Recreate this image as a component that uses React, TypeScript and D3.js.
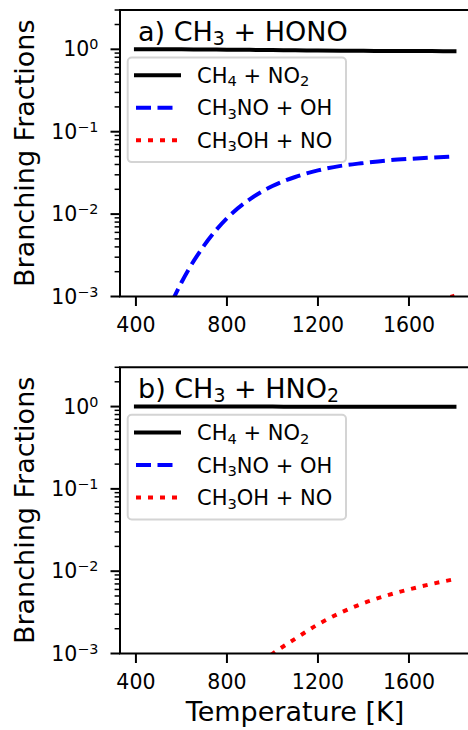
import React from "react";
import * as d3 from "d3";

// ---- data ----
const temperatures = [400, 500, 600, 700, 800, 900, 1000, 1100, 1200, 1300, 1400, 1500, 1600, 1700, 1800];

// panel a) CH3 + HONO
const hono_CH4_NO2 = [1.0, 1.0, 0.999, 0.996, 0.991, 0.985, 0.978, 0.972, 0.966, 0.961, 0.958, 0.955, 0.953, 0.951, 0.949];
const hono_CH3NO_OH = [5.0e-5, 3.55e-4, 1.48e-3, 4.17e-3, 8.91e-3, 1.51e-2, 2.19e-2, 2.82e-2, 3.39e-2, 3.85e-2, 4.17e-2, 4.47e-2, 4.68e-2, 4.85e-2, 5.01e-2];
const hono_CH3OH_NO = [1e-7, 6e-7, 2.5e-6, 8e-6, 2e-5, 4.2e-5, 8e-5, 1.35e-4, 2.1e-4, 3.0e-4, 4.1e-4, 5.4e-4, 6.8e-4, 8.4e-4, 1.02e-3];

// panel b) CH3 + HNO2
const hno2_CH4_NO2 = [1.0, 1.0, 1.0, 1.0, 1.0, 0.999, 0.999, 0.998, 0.998, 0.997, 0.996, 0.995, 0.994, 0.993, 0.992];
const hno2_CH3NO_OH = [1e-9, 6e-9, 2.5e-8, 7e-8, 1.6e-7, 3.2e-7, 5.5e-7, 8.5e-7, 1.2e-6, 1.6e-6, 2.1e-6, 2.6e-6, 3.1e-6, 3.7e-6, 4.3e-6];
const hno2_CH3OH_NO = [6.3e-6, 2.5e-5, 7.4e-5, 1.7e-4, 3.4e-4, 6.0e-4, 9.9e-4, 1.51e-3, 2.26e-3, 3.13e-3, 4.09e-3, 5.04e-3, 6.0e-3, 7.0e-3, 8.0e-3];

const xTickValues = [400, 800, 1200, 1600];
const yMajorExponents = [-3, -2, -1, 0];

// segments: [text, kind] kind: "" normal, "sub" subscript
type Seg = [string, string];
const seriesLabels: Seg[][] = [
  [["CH", ""], ["4", "sub"], [" + NO", ""], ["2", "sub"]],
  [["CH", ""], ["3", "sub"], ["NO + OH", ""]],
  [["CH", ""], ["3", "sub"], ["OH + NO", ""]],
];
const panelTitles: Seg[][] = [
  [["a) CH", ""], ["3", "sub"], [" + HONO", ""]],
  [["b) CH", ""], ["3", "sub"], [" + HNO", ""], ["2", "sub"]],
];

const seriesStyles = [
  { color: "#000000", dash: null as string | null, cap: "square" },
  { color: "#0000ff", dash: "15,6.5", cap: "butt" },
  { color: "#ff0000", dash: "5,7", cap: "butt" },
];

const panels = [
  { top: 10, bottom: 296.5, title: panelTitles[0], series: [hono_CH4_NO2, hono_CH3NO_OH, hono_CH3OH_NO] },
  { top: 367.3, bottom: 653.5, title: panelTitles[1], series: [hno2_CH4_NO2, hno2_CH3NO_OH, hno2_CH3OH_NO] },
];

const FONT = "DejaVu Sans, sans-serif";
const W = 468;
const H = 730;
const LEFT = 120;
const RIGHT = 470.4;

function Rich({ segs, fs, x, y, anchor = "start" }: { segs: Seg[]; fs: number; x: number; y: number; anchor?: string }) {
  let offset = 0;
  const kids: React.ReactNode[] = [];
  segs.forEach((s, i) => {
    const [t, kind] = s;
    let target = 0;
    let size = fs;
    if (kind === "sub") { target = 0.16 * fs; size = 0.7 * fs; }
    if (kind === "sup") { target = -0.34 * fs; size = 0.7 * fs; }
    const dy = target - offset;
    offset = target;
    kids.push(
      <tspan key={i} dy={dy} fontSize={size}>{t}</tspan>
    );
  });
  return (
    <text x={x} y={y} fontFamily={FONT} fontSize={fs} textAnchor={anchor} fill="#000" style={{ whiteSpace: "pre" }}>
      {kids}
    </text>
  );
}

function Panel({ p, idx }: { p: typeof panels[0]; idx: number }) {
  const x = d3.scaleLinear().domain([330, 1870]).range([LEFT, RIGHT]);
  const y = d3.scaleLog().domain([1e-3, 3]).range([p.bottom, p.top]);
  const line = d3
    .line<number>()
    .x((_, i) => x(temperatures[i]))
    .y((v) => y(v))
    .curve(d3.curveMonotoneX);
  const minor = y.ticks().filter((v) => {
    const l = Math.log10(v);
    return Math.abs(l - Math.round(l)) > 1e-6;
  });
  const clipId = `clip${idx}`;
  const legTop = p.top + 47.5;
  const rows = [65.3, 97.7, 130.3].map((d) => p.top + d);
  return (
    <g>
      <defs>
        <clipPath id={clipId}>
          <rect x={LEFT} y={p.top} width={RIGHT - LEFT} height={p.bottom - p.top} />
        </clipPath>
      </defs>
      <g clipPath={`url(#${clipId})`}>
        {p.series.map((vals, si) => (
          <path
            key={si}
            d={line(vals) || ""}
            fill="none"
            stroke={seriesStyles[si].color}
            strokeWidth={4}
            strokeDasharray={seriesStyles[si].dash || undefined}
            strokeLinecap={seriesStyles[si].cap as any}
          />
        ))}
      </g>
      {/* title */}
      <Rich segs={p.title} fs={27} x={138} y={p.top + 30.7} />
      {/* legend */}
      <rect x={127.7} y={legTop} width={218.3} height={104.6} rx={4} fill="#ffffff" fillOpacity={0.8} stroke="#d4d4d4" strokeWidth={2} />
      {seriesStyles.map((s, si) => (
        <g key={si}>
          <line
            x1={136}
            x2={179}
            y1={rows[si]}
            y2={rows[si]}
            stroke={s.color}
            strokeWidth={4}
            strokeDasharray={s.dash || undefined}
            strokeLinecap={s.cap as any}
          />
          <Rich segs={seriesLabels[si]} fs={21} x={197} y={rows[si] + 7.6} />
        </g>
      ))}
      {/* spines */}
      <line x1={LEFT} x2={LEFT} y1={p.top} y2={p.bottom} stroke="#000" strokeWidth={2} />
      <line x1={LEFT - 1} x2={RIGHT} y1={p.top} y2={p.top} stroke="#000" strokeWidth={2} />
      <line x1={LEFT - 1} x2={RIGHT} y1={p.bottom} y2={p.bottom} stroke="#000" strokeWidth={2} />
      <line x1={RIGHT} x2={RIGHT} y1={p.top} y2={p.bottom} stroke="#000" strokeWidth={2} />
      {/* x ticks */}
      {xTickValues.map((t) => (
        <g key={t}>
          <line x1={x(t)} x2={x(t)} y1={p.bottom} y2={p.bottom + 9.5} stroke="#000" strokeWidth={2} />
          <text x={x(t)} y={p.bottom + 35.3} fontFamily={FONT} fontSize={20.5} textAnchor="middle">{t}</text>
        </g>
      ))}
      {/* y ticks */}
      {minor.map((v) => (
        <line key={v} x1={LEFT - 5.4} x2={LEFT} y1={y(v)} y2={y(v)} stroke="#000" strokeWidth={1.5} />
      ))}
      {yMajorExponents.map((e) => {
        const yy = y(Math.pow(10, e));
        const ex = e < 0 ? `\u2212${-e}` : `${e}`;
        return (
          <g key={e}>
            <line x1={LEFT - 9.5} x2={LEFT} y1={yy} y2={yy} stroke="#000" strokeWidth={2} />
            <Rich segs={[["10", ""], [ex, "sup"]]} fs={20.5} x={98.5} y={yy + 7} anchor="end" />
          </g>
        );
      })}
      {/* y label */}
      <text
        transform={`translate(33.5,${(p.top + p.bottom) / 2}) rotate(-90)`}
        fontFamily={FONT}
        fontSize={27}
        textAnchor="middle"
      >
        Branching Fractions
      </text>
    </g>
  );
}

export default function App() {
  return (
    <svg
      width={W}
      height={H}
      viewBox={`0 0 ${W} ${H}`}
      style={{ position: "absolute", left: 0, top: 0, background: "#fff" }}
    >
      <rect x={0} y={0} width={W} height={H} fill="#fff" />
      {panels.map((p, i) => (
        <Panel key={i} p={p} idx={i} />
      ))}
      <text x={295} y={721} fontFamily={FONT} fontSize={27} textAnchor="middle">
        Temperature [K]
      </text>
    </svg>
  );
}
